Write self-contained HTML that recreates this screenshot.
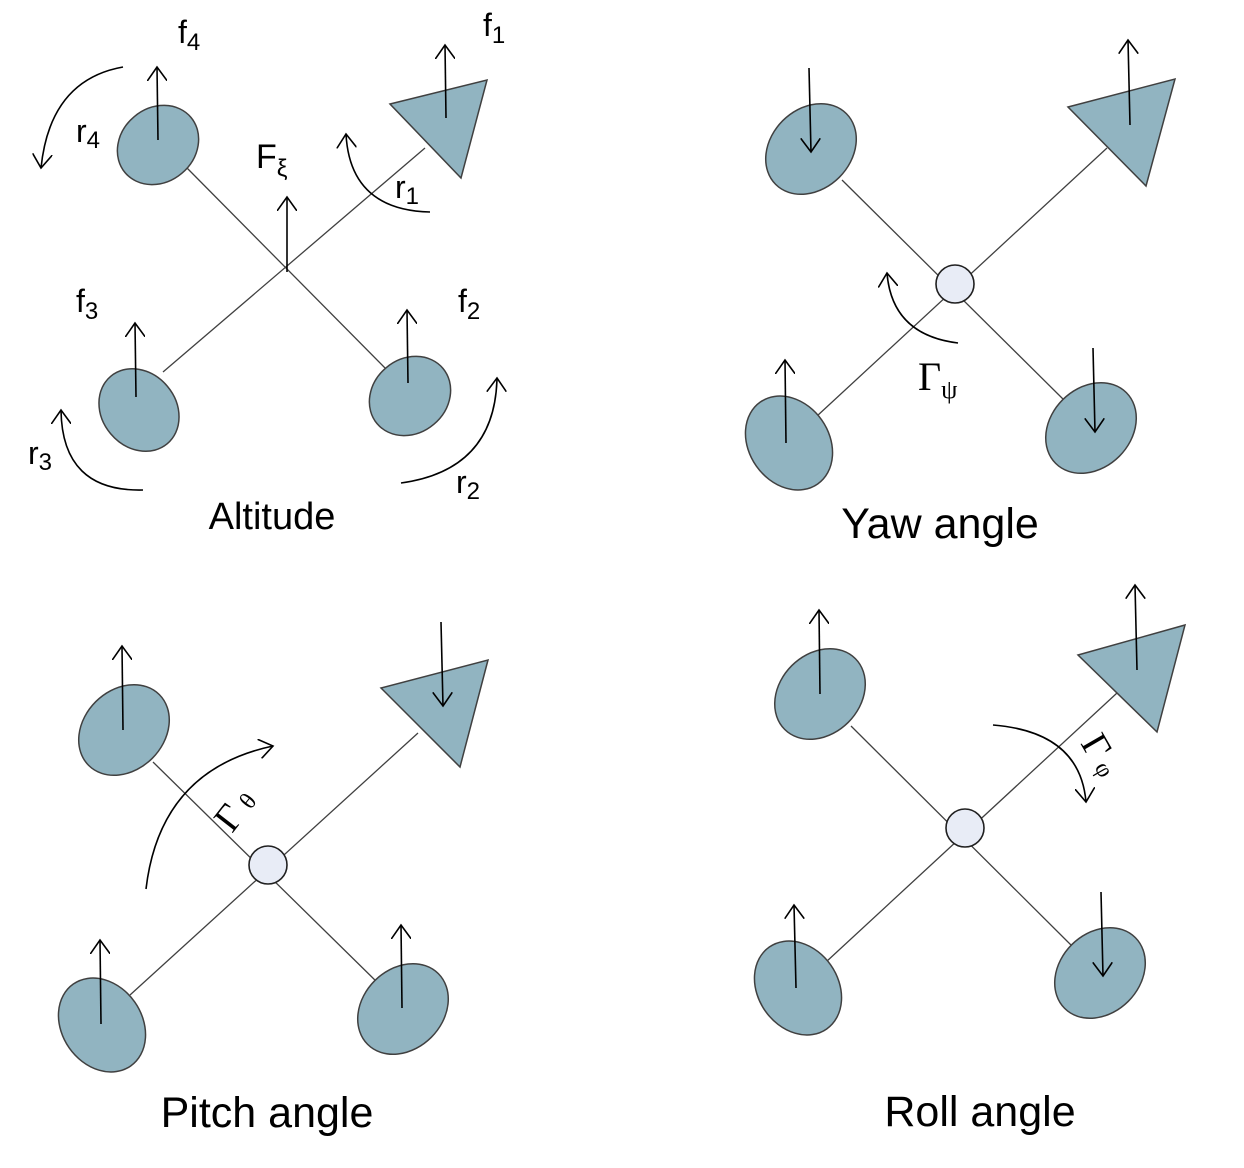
<!DOCTYPE html>
<html><head><meta charset="utf-8"><style>
html,body{margin:0;padding:0;background:#fff;}
svg{display:block;}
.l{stroke:#404040;stroke-width:1.3;fill:none}
.a{stroke:#000;stroke-width:1.6;fill:none}
.e{fill:#91b4c1;stroke:#404040;stroke-width:1.5}
.c{fill:#e8ecf6;stroke:#202020;stroke-width:1.6}
.t{font-family:"Liberation Sans",sans-serif;fill:#000}
.s{font-family:"Liberation Serif",serif;fill:#000}
</style></head><body>
<svg width="1244" height="1168" viewBox="0 0 1244 1168" xmlns="http://www.w3.org/2000/svg">
<defs>
<marker id="h" markerWidth="20" markerHeight="20" refX="14" refY="10" orient="auto" markerUnits="userSpaceOnUse">
<path d="M0,0 L14,10 L0,20" fill="none" stroke="#000" stroke-width="1.6"/>
</marker>
</defs>

<!-- Panel 1: Altitude -->
<line class="l" x1="187" y1="168" x2="387" y2="370"/>
<line class="l" x1="163" y1="372" x2="425" y2="148"/>
<ellipse class="e" cx="158" cy="145" rx="43" ry="37" transform="rotate(-40 158 145)"/>
<ellipse class="e" cx="139" cy="410" rx="44" ry="37" transform="rotate(50 139 410)"/>
<ellipse class="e" cx="410" cy="396" rx="43" ry="37" transform="rotate(-40 410 396)"/>
<polygon class="e" points="390,104 487,80 461,178"/>
<line class="a" x1="158" y1="140" x2="157" y2="67" marker-end="url(#h)"/>
<line class="a" x1="446" y1="118" x2="445" y2="45" marker-end="url(#h)"/>
<line class="a" x1="287" y1="272" x2="287" y2="197" marker-end="url(#h)"/>
<line class="a" x1="136" y1="397" x2="135" y2="323" marker-end="url(#h)"/>
<line class="a" x1="408" y1="383" x2="407" y2="310" marker-end="url(#h)"/>
<path class="a" d="M123,67 Q50,80 41,168" marker-end="url(#h)"/>
<path class="a" d="M430,212 Q350,210 346,134" marker-end="url(#h)"/>
<path class="a" d="M143,490 Q62,492 61,410" marker-end="url(#h)"/>
<path class="a" d="M401,483 Q495,470 497,378" marker-end="url(#h)"/>
<text class="t" x="178" y="43" font-size="32">f<tspan font-size="24" dy="7">4</tspan></text>
<text class="t" x="483" y="36" font-size="32">f<tspan font-size="24" dy="7">1</tspan></text>
<text class="t" x="256" y="168" font-size="34">F<tspan font-size="24" dy="8">ξ</tspan></text>
<text class="t" x="76" y="142" font-size="32">r<tspan font-size="24" dy="6">4</tspan></text>
<text class="t" x="395" y="198" font-size="32">r<tspan font-size="24" dy="6">1</tspan></text>
<text class="t" x="76" y="312" font-size="32">f<tspan font-size="24" dy="7">3</tspan></text>
<text class="t" x="458" y="312" font-size="32">f<tspan font-size="24" dy="7">2</tspan></text>
<text class="t" x="28" y="464" font-size="32">r<tspan font-size="24" dy="6">3</tspan></text>
<text class="t" x="456" y="493" font-size="32">r<tspan font-size="24" dy="6">2</tspan></text>
<text class="t" x="272" y="529" font-size="38" text-anchor="middle">Altitude</text>

<!-- Panel 2: Yaw -->
<line class="l" x1="842" y1="180" x2="1066" y2="402"/>
<line class="l" x1="817" y1="416" x2="1107" y2="148"/>
<circle class="c" cx="955" cy="284" r="19"/>
<ellipse class="e" cx="811" cy="149" rx="50" ry="40" transform="rotate(-45 811 149)"/>
<ellipse class="e" cx="789" cy="443" rx="50" ry="40" transform="rotate(55 789 443)"/>
<ellipse class="e" cx="1091" cy="428" rx="50" ry="40" transform="rotate(-45 1091 428)"/>
<polygon class="e" points="1068,107 1175,79 1146,186"/>
<line class="a" x1="809" y1="68" x2="811" y2="152" marker-end="url(#h)"/>
<line class="a" x1="1130" y1="125" x2="1128" y2="40" marker-end="url(#h)"/>
<line class="a" x1="786" y1="443" x2="785" y2="360" marker-end="url(#h)"/>
<line class="a" x1="1093" y1="348" x2="1095" y2="432" marker-end="url(#h)"/>
<path class="a" d="M958,343 Q892,335 887,273" marker-end="url(#h)"/>
<text class="s" x="918" y="390" font-size="40">Γ<tspan font-size="26" dy="8">ψ</tspan></text>
<text class="t" x="940" y="538" font-size="43" text-anchor="middle">Yaw angle</text>

<!-- Panel 3: Pitch -->
<line class="l" x1="153" y1="762" x2="380" y2="985"/>
<line class="l" x1="130" y1="995" x2="418" y2="733"/>
<circle class="c" cx="268" cy="865" r="19"/>
<ellipse class="e" cx="124" cy="730" rx="50" ry="40" transform="rotate(-45 124 730)"/>
<ellipse class="e" cx="102" cy="1025" rx="50" ry="40" transform="rotate(55 102 1025)"/>
<ellipse class="e" cx="403" cy="1009" rx="50" ry="40" transform="rotate(-45 403 1009)"/>
<polygon class="e" points="381,688 488,660 460,767"/>
<line class="a" x1="123" y1="730" x2="122" y2="646" marker-end="url(#h)"/>
<line class="a" x1="101" y1="1024" x2="100" y2="940" marker-end="url(#h)"/>
<line class="a" x1="402" y1="1008" x2="401" y2="925" marker-end="url(#h)"/>
<line class="a" x1="441" y1="622" x2="443" y2="706" marker-end="url(#h)"/>
<path class="a" d="M146,889 Q160,770 273,746" marker-end="url(#h)"/>
<text class="s" x="0" y="0" font-size="38" transform="translate(232,834) rotate(-52)">Γ<tspan font-size="24" dx="8">θ</tspan></text>
<text class="t" x="267" y="1127" font-size="43" text-anchor="middle">Pitch angle</text>

<!-- Panel 4: Roll -->
<line class="l" x1="851" y1="726" x2="1076" y2="950"/>
<line class="l" x1="826" y1="962" x2="1117" y2="693"/>
<circle class="c" cx="965" cy="828" r="19"/>
<ellipse class="e" cx="820" cy="694" rx="50" ry="40" transform="rotate(-45 820 694)"/>
<ellipse class="e" cx="798" cy="988" rx="50" ry="40" transform="rotate(55 798 988)"/>
<ellipse class="e" cx="1100" cy="973" rx="50" ry="40" transform="rotate(-45 1100 973)"/>
<polygon class="e" points="1078,655 1185,625 1157,732"/>
<line class="a" x1="820" y1="694" x2="819" y2="610" marker-end="url(#h)"/>
<line class="a" x1="796" y1="988" x2="794" y2="905" marker-end="url(#h)"/>
<line class="a" x1="1137" y1="670" x2="1135" y2="585" marker-end="url(#h)"/>
<line class="a" x1="1101" y1="892" x2="1103" y2="976" marker-end="url(#h)"/>
<path class="a" d="M993,725 Q1080,732 1086,802" marker-end="url(#h)"/>
<text class="s" x="0" y="0" font-size="38" transform="translate(1080,743) rotate(60)">Γ<tspan font-size="24" dx="6">φ</tspan></text>
<text class="t" x="980" y="1126" font-size="43" text-anchor="middle">Roll angle</text>
</svg>
</body></html>
